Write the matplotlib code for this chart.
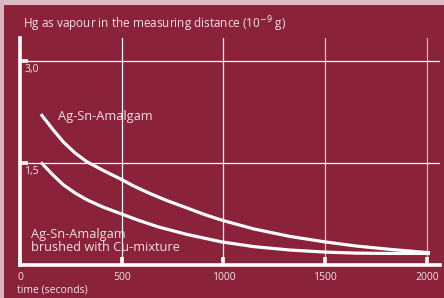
import matplotlib
matplotlib.use("Agg")
import matplotlib.pyplot as plt

# values
time_upper = [103, 160, 213, 270, 328, 410, 491, 560, 640, 720, 820, 900, 991, 1150,
              1327, 1499, 1650, 1818, 2015]
ag_sn = [2.22, 2.00, 1.81, 1.65, 1.52, 1.39, 1.27, 1.16, 1.05, 0.95, 0.84, 0.75,
         0.66, 0.53, 0.42, 0.34, 0.28, 0.23, 0.18]
time_lower = [103, 160, 213, 270, 328, 410, 491, 580, 680, 820, 991, 1150, 1327,
              1499, 1650, 1818, 2015]
ag_sn_cu = [1.51, 1.33, 1.18, 1.06, 0.96, 0.85, 0.76, 0.66, 0.56, 0.45, 0.34, 0.27,
            0.22, 0.19, 0.175, 0.17, 0.17]

xticks = [0, 500, 1000, 1500, 2000]
xticklabels = ["0", "500", "1000", "1500", "2000"]
ygrid = [1.5, 3.0]
yticklabels = ["1,5", "3,0"]

bg = "#8a2239"
fg = "#f3e3e7"
plt.rcParams["font.family"] = ["Open Sans", "DejaVu Sans"]

fig = plt.figure(figsize=(4.44, 2.98), dpi=100, facecolor=bg)
# light border strips at the top and left
fig.patches.append(plt.Rectangle((0, 1 - 5 / 298), 1, 5 / 298, transform=fig.transFigure,
                                 facecolor="#dcbcc4", edgecolor="none", zorder=0))
fig.patches.append(plt.Rectangle((0, 0), 4 / 444, 1, transform=fig.transFigure,
                                 facecolor="#d9b3bd", edgecolor="none", zorder=0))

ax = fig.add_axes([20 / 444, 33 / 298, 420 / 444, 227 / 298])
ax.set_facecolor(bg)
ax.set_xlim(0, 2064)
ax.set_ylim(0, 3.34)

for s in ["top", "right"]:
    ax.spines[s].set_visible(False)
for s in ["left", "bottom"]:
    ax.spines[s].set_color("white")
    ax.spines[s].set_linewidth(2.6)
    ax.spines[s].set_zorder(5)

# grid
for x, c in zip(xticks[1:], ["#ffffff", "#ffffff", "#e6c2cb", "#d9a9b5"]):
    ax.axvline(x, color=c, lw=0.9, zorder=1)
for y in ygrid:
    ax.axhline(y, color="white", lw=0.9, zorder=1)

ax.set_xticks(xticks)
ax.set_xticklabels(xticklabels)
ax.set_yticks(ygrid)
ax.set_yticklabels([])
ax.tick_params(axis="x", direction="in", length=6, width=2.6, color="white",
               labelcolor=fg, labelsize=7.5, pad=5)
ax.tick_params(axis="y", direction="in", length=6, width=2.6, color="white")
for y, lab in zip(ygrid, yticklabels):
    ax.text(22, y - 0.13, lab, color=fg, fontsize=7.5, va="center", ha="left")

ax.plot(time_upper, ag_sn, color="white", lw=2.3, solid_capstyle="butt",
        solid_joinstyle="round", zorder=3)
ax.plot(time_lower, ag_sn_cu, color="white", lw=2.3, solid_capstyle="butt",
        solid_joinstyle="round", zorder=3)

ax.text(187, 2.19, "Ag-Sn-Amalgam", color=fg, fontsize=9.2, va="center", ha="left")
ax.text(54, 0.36, "Ag-Sn-Amalgam\nbrushed with Cu-mixture", color=fg, fontsize=9.2,
        va="center", ha="left", linespacing=1.0, zorder=4)

fig.text(23 / 444, 1 - 24 / 298, "Hg as vapour in the measuring distance (10$^{-9}$ g)",
         color=fg, fontsize=8.5, va="center", ha="left")
fig.text(17 / 444, 1 - 290 / 298, "time (seconds)", color=fg, fontsize=7.5,
         va="center", ha="left")

fig.savefig("out.png", dpi=100, facecolor=bg)
